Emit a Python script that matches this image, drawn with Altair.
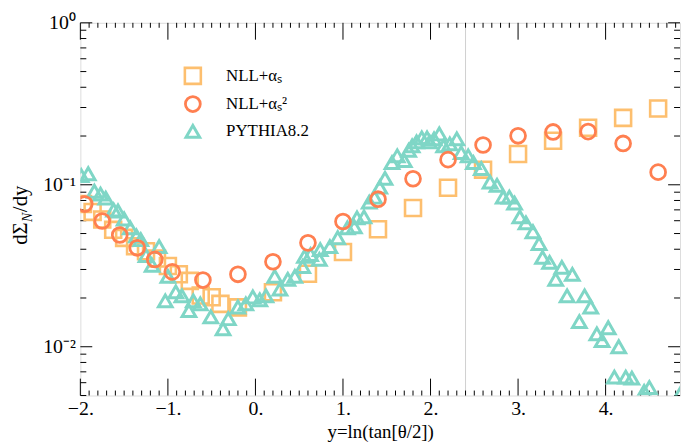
import altair as alt
import pandas as pd
import numpy as np

# ---------------- data ----------------
SERIES = ["NLL+αₛ", "NLL+αₛ²", "PYTHIA8.2"]
COLORS = ["#FDBF6F", "#FF7F50", "#7FD6C6"]
SHAPES = ["square", "circle", "triangle-up"]

sq_x = [-1.97, -1.86, -1.75, -1.625, -1.5, -1.375, -1.25, -1.125, -1.0, -0.875, -0.75,
        -0.625, -0.5, -0.4, -0.2, 0.2, 0.6, 1.0, 1.4, 1.8, 2.2, 2.6, 3.0, 3.4, 3.8, 4.2, 4.6]
sq_y = [0.076, 0.068, 0.061, 0.0527, 0.047, 0.0417, 0.0389, 0.0351, 0.0315, 0.028, 0.0255,
        0.0207, 0.0202, 0.0184, 0.0175, 0.0217, 0.0282, 0.0385, 0.0531, 0.0719, 0.0959,
        0.124, 0.155, 0.187, 0.225, 0.259, 0.296]

ci_x = [-1.95, -1.75, -1.55, -1.35, -1.15, -0.95, -0.6, -0.2, 0.2, 0.6, 1.0, 1.4, 1.8,
        2.2, 2.6, 3.0, 3.4, 3.8, 4.2, 4.6]
ci_y = [0.076, 0.0598, 0.049, 0.0408, 0.0346, 0.029, 0.0258, 0.028, 0.0335, 0.0438,
        0.0593, 0.0815, 0.109, 0.143, 0.176, 0.2006, 0.212, 0.213, 0.180, 0.1197]

py_x = [-1.99, -1.91, -1.84, -1.77, -1.71, -1.62, -1.57, -1.50, -1.43, -1.36, -1.31, -1.25,
        -1.18, -1.10, -1.03, -1.00, -0.91, -0.84, -0.76, -0.71, -0.63, -0.51, -0.37, -0.31,
        -0.20, -0.11, -0.03, 0.05, 0.12, 0.22, 0.28, 0.37, 0.45, 0.54, 0.56, 0.63, 0.73, 0.74,
        0.85, 0.94, 1.05, 1.13, 1.16, 1.24, 1.30, 1.36, 1.42, 1.48, 1.56, 1.62, 1.70, 1.75,
        1.79, 1.84, 1.90, 1.96, 1.99, 2.04, 2.10, 2.15, 2.22, 2.30, 2.35, 2.43, 2.49, 2.58,
        2.68, 2.76, 2.83, 2.90, 2.96, 3.02, 3.09, 3.17, 3.24, 3.28, 3.36, 3.43, 3.50, 3.56,
        3.62, 3.70, 3.76, 3.83, 3.90, 3.96, 4.03, 4.10, 4.15, 4.23, 4.30, 4.44, 4.50, 4.86]
py_y = [0.114, 0.117, 0.0912, 0.0875, 0.0828, 0.0699, 0.0689, 0.0615, 0.0542, 0.0484, 0.0458,
        0.0366, 0.0318, 0.0415, 0.0192, 0.0272, 0.0218, 0.0206, 0.0167, 0.0192, 0.0184, 0.0153,
        0.0129, 0.0149, 0.0176, 0.0184, 0.0203, 0.0195, 0.0206, 0.0272, 0.0227, 0.0261, 0.0272,
        0.0313, 0.0361, 0.0371, 0.0346, 0.0398, 0.0415, 0.0471, 0.0542, 0.0550, 0.0624, 0.0634,
        0.0782, 0.0838, 0.0966, 0.1096, 0.137, 0.151, 0.141, 0.163, 0.174, 0.184, 0.195, 0.195,
        0.184, 0.192, 0.206, 0.174, 0.179, 0.192, 0.158, 0.151, 0.137, 0.126, 0.104, 0.0993,
        0.0839, 0.0839, 0.0771, 0.0634, 0.0582, 0.0513, 0.0434, 0.0356, 0.0332, 0.0261, 0.0309,
        0.0206, 0.0280, 0.0143, 0.0206, 0.0176, 0.0120, 0.0109, 0.0131, 0.0065, 0.0100, 0.0065,
        0.0064, 0.0053, 0.0056, 0.0052]

X_DOMAIN = [-2.0, 4.85]
Y_DOMAIN = [0.005, 1.0]
X_LABELS = [-2, -1, 0, 1, 2, 3, 4]
Y_LABELS = [0.01, 0.1, 1.0]
VLINE = [2.4]

W, H = 605, 376
FONT = "Liberation Serif"

# ---------------- build table ----------------
df = pd.concat([
    pd.DataFrame({"x": sq_x, "y": sq_y, "series": SERIES[0], "ord": 0}),
    pd.DataFrame({"x": py_x, "y": py_y, "series": SERIES[2], "ord": 1}),
    pd.DataFrame({"x": ci_x, "y": ci_y, "series": SERIES[1], "ord": 2}),
], ignore_index=True)
df["ord"] = df["ord"] * 1000 + np.arange(len(df))

xscale = alt.Scale(domain=X_DOMAIN, nice=False, zero=False)
yscale = alt.Scale(type="log", domain=Y_DOMAIN, nice=False)

legend = alt.Legend(title=None, orient="none", legendX=104, legendY=44,
                    labelFont=FONT, labelFontSize=17, labelColor="black",
                    symbolSize=200, symbolStrokeWidth=2, rowPadding=1,
                    labelOffset=24, padding=0)

xaxis = alt.Axis(values=X_LABELS, labelExpr="(datum.value < 0 ? '\u2212' : '') + abs(datum.value) + '.'",
                 ticks=False, domain=False, grid=False, labelFont=FONT, labelFontSize=20,
                 labelColor="black", labelPadding=3, labelFlush=False,
                 title="y=ln(tan[θ/2])", titleFont=FONT, titleFontSize=19,
                 titleFontWeight="normal", titleColor="black", titlePadding=4)
yaxis = alt.Axis(values=Y_LABELS,
                 labelExpr="datum.value > 0.5 ? '10\u2070' : (datum.value > 0.05 ? '10\u207b\u00b9' : '10\u207b\u00b2')",
                 ticks=False, domain=False, grid=False, labelFont=FONT, labelFontSize=20,
                 labelColor="black", labelPadding=5, title=None)

points = alt.Chart(df).mark_point(filled=False, clip=True, opacity=1).encode(
    x=alt.X("x:Q", scale=xscale, axis=xaxis),
    y=alt.Y("y:Q", scale=yscale, axis=yaxis),
    color=alt.Color("series:N", scale=alt.Scale(domain=SERIES, range=COLORS), legend=legend),
    shape=alt.Shape("series:N", scale=alt.Scale(domain=SERIES, range=SHAPES), legend=legend),
    size=alt.Size("series:N", scale=alt.Scale(domain=SERIES, range=[260, 190, 140]), legend=None),
    strokeWidth=alt.StrokeWidth("series:N", scale=alt.Scale(domain=SERIES, range=[2.6, 3.0, 1.1]), legend=None),
    order=alt.Order("ord:Q"),
)

vline = alt.Chart(pd.DataFrame({"x": VLINE})).mark_rule(color="#cfcfcf", strokeWidth=1).encode(
    x=alt.X("x:Q", scale=xscale, axis=xaxis))

# ---------------- inward tick marks ----------------
x_major = X_LABELS
x_minor = [round(v, 1) for v in np.arange(-1.9, 4.85, 0.1) if abs(v - round(v)) > 1e-6]
y_major = Y_LABELS
y_minor = [k * 10.0 ** e for e in (-3, -2, -1) for k in range(2, 10) if 0.005 <= k * 10.0 ** e < 1]


def xticks(vals, length):
    base = alt.Chart(pd.DataFrame({"x": vals})).mark_rule(color="black", strokeWidth=1)
    enc = dict(x=alt.X("x:Q", scale=xscale, axis=xaxis))
    return [base.encode(**enc, y=alt.value(H), y2=alt.value(H - length)),
            base.encode(**enc, y=alt.value(0), y2=alt.value(length))]


def yticks(vals, length):
    base = alt.Chart(pd.DataFrame({"y": vals})).mark_rule(color="black", strokeWidth=1)
    enc = dict(y=alt.Y("y:Q", scale=yscale, axis=yaxis))
    return [base.encode(**enc, x=alt.value(0), x2=alt.value(length)),
            base.encode(**enc, x=alt.value(W), x2=alt.value(W - length))]


ticks = xticks(x_major, 17) + xticks(x_minor, 5) + yticks(y_major, 12) + yticks(y_minor, 6)

# ---------------- y title dΣ_N/dy ----------------
one = pd.DataFrame({"a": [0]})
t1 = alt.Chart(one).mark_text(text="dΣ", angle=270, align="left", baseline="alphabetic",
                              font=FONT, fontSize=21, color="black").encode(
    x=alt.value(-54), y=alt.value(224))
t2 = alt.Chart(one).mark_text(text="N", angle=270, align="left", baseline="alphabetic",
                              font=FONT, fontSize=14, fontStyle="italic", color="black").encode(
    x=alt.value(-49), y=alt.value(201))
t3 = alt.Chart(one).mark_text(text="/dy", angle=270, align="left", baseline="alphabetic",
                              font=FONT, fontSize=21, color="black").encode(
    x=alt.value(-54), y=alt.value(191))

chart = alt.layer(vline, *ticks, points, t1, t2, t3).properties(
    width=W, height=H,
    autosize=alt.AutoSizeParams(type="none"),
    padding={"left": 73, "top": 13, "right": 2, "bottom": 50},
).configure_view(stroke="black", strokeWidth=1).configure(background="white")

chart.save("out.html", embed_options={"renderer": "svg", "actions": False})
